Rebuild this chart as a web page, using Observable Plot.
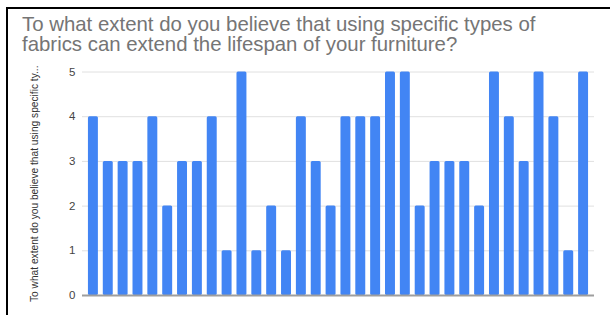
<!DOCTYPE html>
<html>
<head>
<meta charset="utf-8">
<script src="https://cdn.jsdelivr.net/npm/d3@7"></script>
<script src="https://cdn.jsdelivr.net/npm/@observablehq/plot@0.6"></script>
<style>
  html, body { margin: 0; padding: 0; background: #fff; }
  #wrap { position: relative; width: 610px; height: 315px; overflow: hidden; font-family: Arial, "Liberation Sans", sans-serif; }
  #frame { position: absolute; left: 6px; top: 7px; width: 610px; height: 320px; border-top: 2px solid #000; border-left: 2px solid #000; box-sizing: border-box; }
  #title { position: absolute; left: 22px; top: 14px; font-size: 20.4px; line-height: 20px; color: #757575; white-space: nowrap; }
  #chart { position: absolute; left: 0; top: 56px; }
</style>
</head>
<body>
<div id="wrap">
  <div id="frame"></div>
  <div id="title">To what extent do you believe that using specific types of<br>fabrics can extend the lifespan of your furniture?</div>
  <div id="chart"></div>
</div>
<script>
const responses = [4,3,3,3,4,2,3,3,4,1,5,1,2,1,4,3,2,4,4,4,5,5,2,3,3,3,2,5,4,3,5,4,1,5];
const respondent = responses.map((_, i) => i + 1);
const yTicks = [0, 1, 2, 3, 4, 5];
const yLabel = "To what extent do you believe that using specific ty...";

const data = respondent.map((r, i) => ({respondent: r, value: responses[i]}));

const chart = Plot.plot({
  width: 610,
  height: 259,
  marginTop: 15.5,
  marginBottom: 20,
  marginLeft: 82,
  marginRight: 16,
  style: {fontFamily: "Arial, 'Liberation Sans', sans-serif", background: "transparent"},
  x: {type: "band", domain: respondent, round: false, paddingInner: 0.33, paddingOuter: 0.4, align: 0.5, axis: null},
  y: {domain: [0, 5], ticks: yTicks, label: null},
  marks: [
    Plot.ruleY(yTicks.filter(d => d > 0), {stroke: "#e0e0e0", strokeWidth: 1}),
    Plot.axisY({ticks: yTicks, tickSize: 0, tickPadding: 7, fontSize: 11.5, color: "#444", tickFormat: d3.format("d"), label: null}),
    Plot.barY(data, {x: "respondent", y: "value", fill: "#4285f4", rx: 1.5}),
    Plot.ruleY([0], {stroke: "#9e9e9e", strokeWidth: 2}),
    Plot.text([yLabel], {frameAnchor: "left", dx: -48, rotate: -90, fontSize: 10.2, fill: "#333", textAnchor: "middle"})
  ]
});
document.getElementById("chart").appendChild(chart);
</script>
</body>
</html>
